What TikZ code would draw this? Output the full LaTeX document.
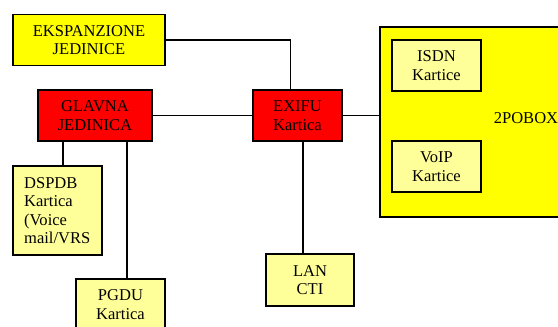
\documentclass[tikz,border=0pt]{standalone}
\usepackage{fontspec}
\setmainfont{Liberation Serif}
\usetikzlibrary{shadows}
\definecolor{jarko}{HTML}{FFFF00}
\definecolor{svijetlo}{HTML}{FFFF99}
\definecolor{crveno}{HTML}{FF0000}
\begin{document}
\begin{tikzpicture}[x=0.75pt, y=-0.75pt,
    kutija/.style={draw, line width=1pt, align=center, inner sep=0pt,
      font=\fontsize{12.4}{13.8}\selectfont,
      drop shadow={shadow xshift=0.6pt, shadow yshift=-0.6pt, fill=black!35, opacity=0.6}},
    zuta/.style={kutija, fill=jarko},
    crvena/.style={kutija, fill=crveno},
    kartica/.style={kutija, fill=svijetlo},
    veza/.style={line width=0.8pt}]
      \def\sir{66.75pt};
      \def\vis{38.25pt};
      \useasboundingbox (0,0) rectangle (558,327);
      %
      \node[zuta, minimum width=114pt, minimum height=\vis] (eksp) at (89,40) {EKSPANZIONE\\JEDINICE};
      \node[crvena, minimum width=85.5pt, minimum height=\vis] (glavna) at (95,115.5) {GLAVNA\\JEDINICA};
      \node[crvena, minimum width=\sir, minimum height=\vis] (exifu) at (297.5,115.5) {EXIFU\\Kartica};
      %
      \node[zuta, minimum width=134.25pt, minimum height=142.5pt] (pobox) at (469.5,122) {};   % big box
      \node[font=\fontsize{12.4}{13.8}\selectfont] (poboxtxt) at (526,118) {2POBOX};
      \node[kartica, minimum width=\sir, minimum height=\vis] (isdn) at (436.5,65.5) {ISDN\\Kartice};
      \node[kartica, minimum width=\sir, minimum height=\vis] (voip) at (436.5,166.5) {VoIP\\Kartice};
      %
      \node[kartica, text width=50pt, inner xsep=8.4pt, align=left, minimum height=66.75pt] (dspdb) at (57.5,210.5)
        {DSPDB\\Kartica\\(Voice\\mail/VRS};
      \node[kartica, minimum width=\sir, minimum height=\vis] (pgdu) at (120.5,304.5) {PGDU\\Kartica};
      \node[kartica, minimum width=66pt, minimum height=39pt] (lan) at (310,280) {LAN\\CTI};
      %
      \draw[veza] (eksp.east) -| ([xshift=-5pt]exifu.north);
      \draw[veza] (glavna) -- (exifu);
      \draw[veza] (exifu) -- (pobox.west |- exifu);
      \draw[veza] ([xshift=-5.25pt]lan.north) -- ([xshift=-5.25pt]lan.north |- exifu.south);
      \draw[veza] ([xshift=-24pt]glavna.south) -- ([xshift=-24pt]glavna.south |- dspdb.north);
      \draw[veza] ([xshift=24pt]glavna.south) -- ([xshift=24pt]glavna.south |- pgdu.north);
      %
    \end{tikzpicture}
\end{document}
